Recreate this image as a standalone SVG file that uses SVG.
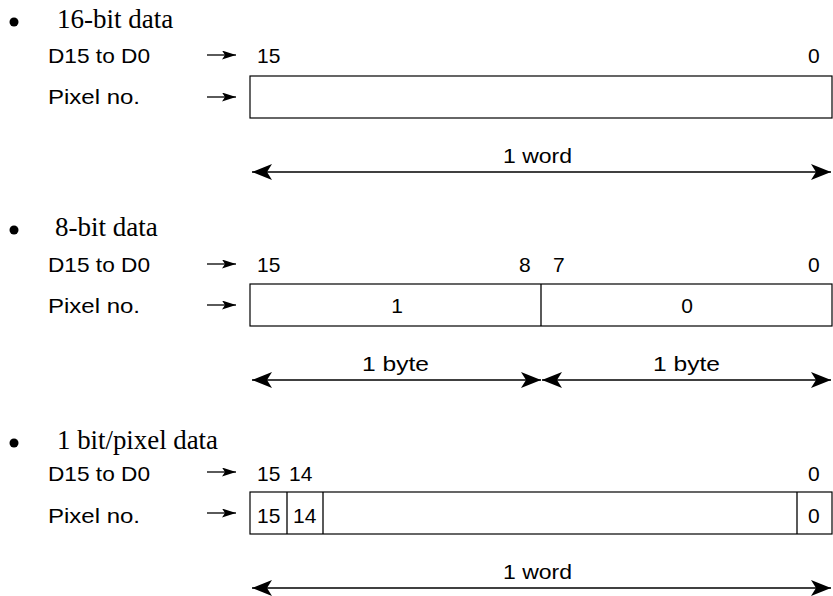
<svg xmlns="http://www.w3.org/2000/svg" width="833" height="596" viewBox="0 0 833 596">
<style>
.h{font-family:"Liberation Serif","Times New Roman",serif;font-size:27px;fill:#000}
.t{font-family:"Liberation Sans",Arial,sans-serif;font-size:21px;fill:#000}
.m{text-anchor:middle}
.box{fill:#fff;stroke:#000;stroke-width:1.2}
.ln{stroke:#000;stroke-width:1.4;fill:none}
.sl{stroke:#000;stroke-width:1.3;fill:none}
.bul{fill:#000}
</style>
<defs>
<marker id="ah" viewBox="0 0 20 16" refX="20" refY="8" markerWidth="20" markerHeight="16" markerUnits="userSpaceOnUse" orient="auto-start-reverse">
<path d="M0,0 L20,8 L0,16 L5,8 Z" fill="#000"/>
</marker>
<marker id="sa" viewBox="0 0 14 9" refX="14" refY="4.5" markerWidth="14" markerHeight="9" markerUnits="userSpaceOnUse" orient="auto">
<path d="M0,0 L14,4.5 L0,9 L3,4.5 Z" fill="#000"/>
</marker>
</defs>

<!-- Section 1: 16-bit data -->
<g id="sec1-title">
<circle class="bul" cx="14" cy="22" r="4.5"/>
<text class="h" x="57" y="28">16-bit data</text>
</g>
<g id="sec1-d15">
<text class="t" x="48" y="63" textLength="102" lengthAdjust="spacingAndGlyphs">D15 to D0</text>
</g>
<g id="sec1-pixel">
<text class="t" x="48" y="104" textLength="92" lengthAdjust="spacingAndGlyphs">Pixel no.</text>
</g>
<g id="sec1-bits">
<text class="t" x="257" y="63">15</text>
<text class="t" x="808" y="63">0</text>
</g>
<g id="sec1-box">
<rect class="box" x="250" y="76" width="582" height="42"/>
</g>
<g id="sec1-word">
<text class="t" x="503" y="163" textLength="69" lengthAdjust="spacingAndGlyphs">1 word</text>
</g>

<!-- Section 2: 8-bit data -->
<g id="sec2-title">
<circle class="bul" cx="14" cy="230" r="4.5"/>
<text class="h" x="55" y="236">8-bit data</text>
</g>
<g id="sec2-d15">
<text class="t" x="48" y="272" textLength="102" lengthAdjust="spacingAndGlyphs">D15 to D0</text>
</g>
<g id="sec2-pixel">
<text class="t" x="48" y="313" textLength="92" lengthAdjust="spacingAndGlyphs">Pixel no.</text>
</g>
<g id="sec2-bits">
<text class="t" x="257" y="272">15</text>
<text class="t" x="519" y="272">8</text>
<text class="t" x="553" y="272">7</text>
<text class="t" x="808" y="272">0</text>
</g>
<g id="sec2-box">
<rect class="box" x="250" y="284" width="582" height="42"/>
<line class="sl" x1="541" y1="284" x2="541" y2="326"/>
<text class="t m" x="397" y="313">1</text>
<text class="t m" x="687" y="313">0</text>
</g>
<g id="sec2-bytes">
<text class="t" x="362" y="371" textLength="67" lengthAdjust="spacingAndGlyphs">1 byte</text>
<text class="t" x="653" y="371" textLength="67" lengthAdjust="spacingAndGlyphs">1 byte</text>
</g>

<!-- Section 3: 1 bit/pixel data -->
<g id="sec3-title">
<circle class="bul" cx="14" cy="443" r="4.5"/>
<text class="h" x="57" y="449" textLength="161" lengthAdjust="spacingAndGlyphs">1 bit/pixel data</text>
</g>
<g id="sec3-d15">
<text class="t" x="48" y="481" textLength="102" lengthAdjust="spacingAndGlyphs">D15 to D0</text>
</g>
<g id="sec3-pixel">
<text class="t" x="48" y="523" textLength="92" lengthAdjust="spacingAndGlyphs">Pixel no.</text>
</g>
<g id="sec3-bits">
<text class="t" x="257" y="481">15</text>
<text class="t" x="289" y="481">14</text>
<text class="t" x="808" y="481">0</text>
</g>
<g id="sec3-box">
<rect class="box" x="250" y="492" width="582" height="42"/>
<line class="sl" x1="287" y1="492" x2="287" y2="534"/>
<line class="sl" x1="323" y1="492" x2="323" y2="534"/>
<line class="sl" x1="797" y1="492" x2="797" y2="534"/>
<text class="t" x="257" y="523">15</text>
<text class="t" x="293" y="523">14</text>
<text class="t" x="808" y="523">0</text>
</g>
<g id="sec3-word">
<text class="t" x="503" y="579" textLength="69" lengthAdjust="spacingAndGlyphs">1 word</text>
</g>

<!-- Connectors -->
<g id="connectors">
<line class="sl" x1="207" y1="55" x2="236" y2="55" marker-end="url(#sa)"/>
<line class="sl" x1="207" y1="97" x2="236" y2="97" marker-end="url(#sa)"/>
<line class="sl" x1="207" y1="264" x2="236" y2="264" marker-end="url(#sa)"/>
<line class="sl" x1="207" y1="305" x2="236" y2="305" marker-end="url(#sa)"/>
<line class="sl" x1="207" y1="472" x2="236" y2="472" marker-end="url(#sa)"/>
<line class="sl" x1="207" y1="513" x2="236" y2="513" marker-end="url(#sa)"/>
<line class="ln" x1="252" y1="172" x2="831" y2="172" marker-start="url(#ah)" marker-end="url(#ah)"/>
<line class="ln" x1="252" y1="380" x2="541" y2="380" marker-start="url(#ah)" marker-end="url(#ah)"/>
<line class="ln" x1="542" y1="380" x2="831" y2="380" marker-start="url(#ah)" marker-end="url(#ah)"/>
<line class="ln" x1="252" y1="588" x2="831" y2="588" marker-start="url(#ah)" marker-end="url(#ah)"/>
</g>
</svg>
